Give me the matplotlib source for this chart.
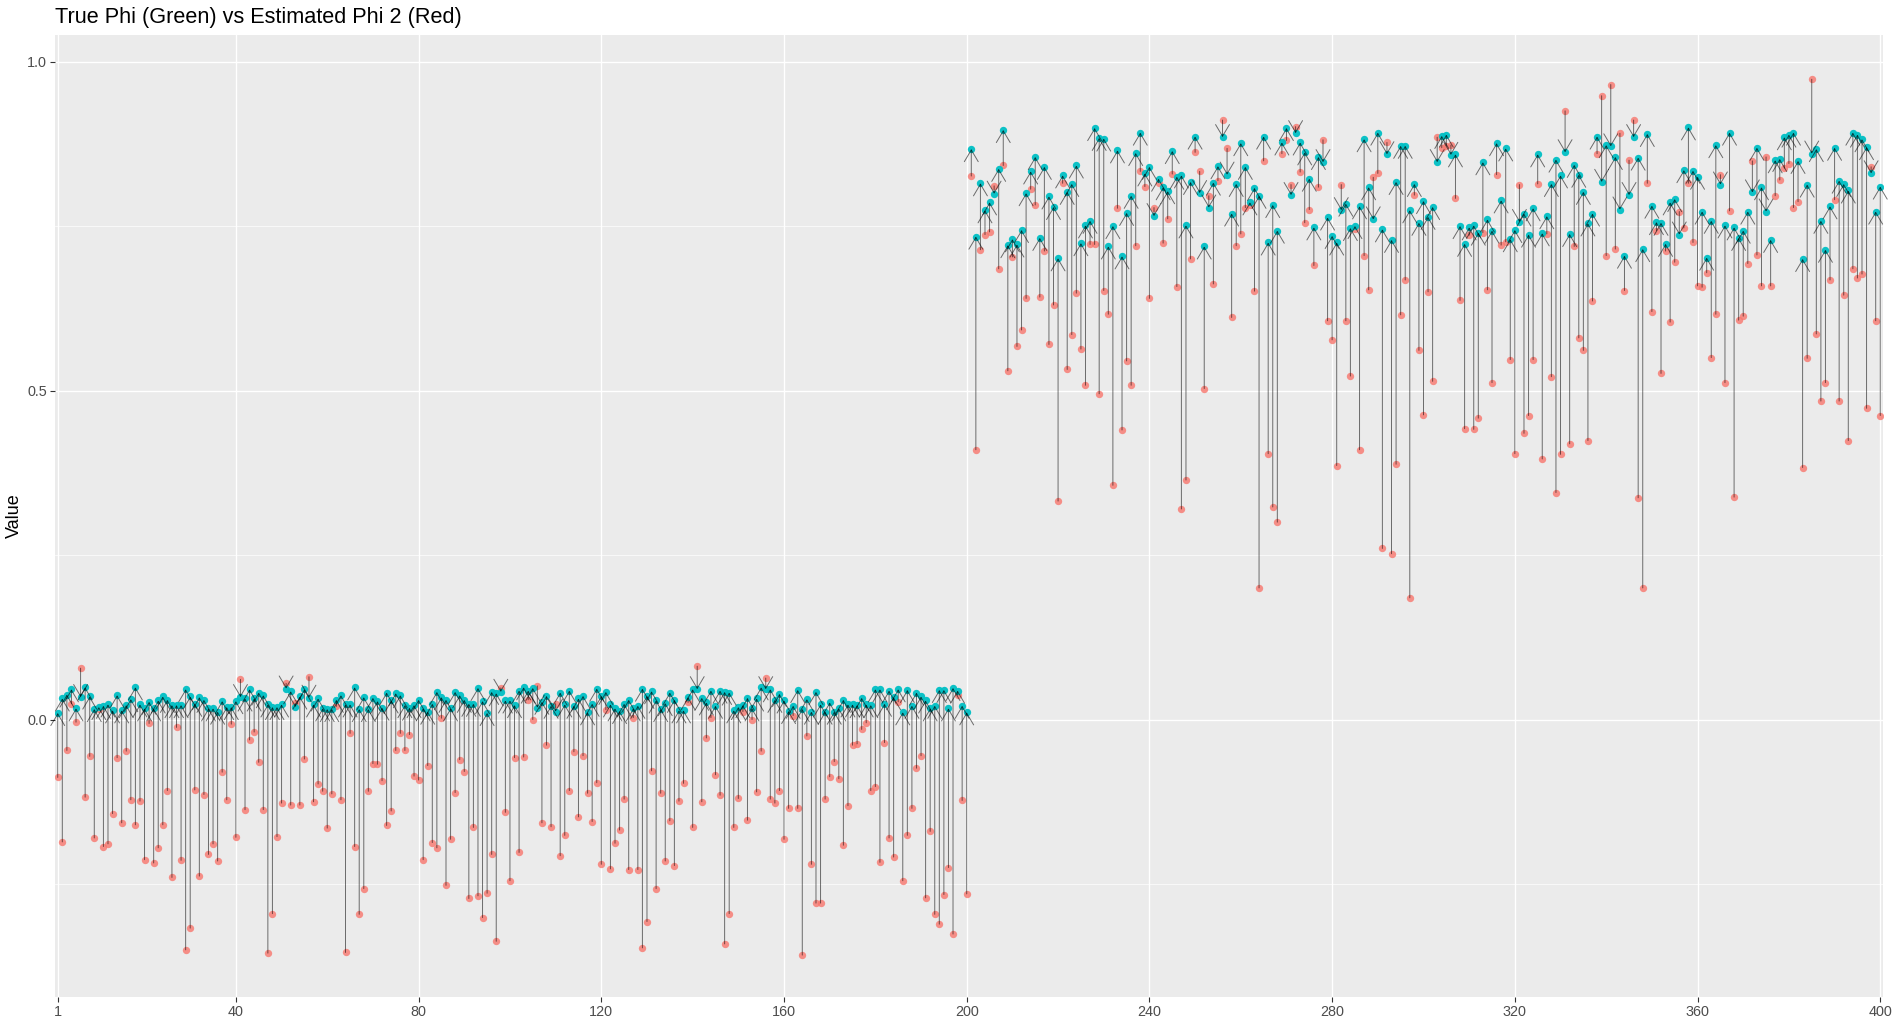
import matplotlib
matplotlib.use("Agg")
import matplotlib.pyplot as plt
from matplotlib.ticker import FixedLocator
import numpy as np

# ---------------- data ----------------
title = "True Phi (Green) vs Estimated Phi 2 (Red)"
y_label = "Value"
x_breaks = [1, 40, 80, 120, 160, 200, 240, 280, 320, 360, 400]
y_breaks = [0.0, 0.5, 1.0]
y_minor_breaks = [-0.25, 0.25, 0.75]

true_phi_1 = [
    0.010, 0.032, 0.038, 0.046, 0.017, 0.034, 0.049, 0.035, 0.016, 0.019,
    0.021, 0.023, 0.014, 0.037, 0.014, 0.022, 0.031, 0.049, 0.023, 0.017,
    0.027, 0.017, 0.029, 0.035, 0.030, 0.022, 0.022, 0.022, 0.046, 0.035,
    0.024, 0.034, 0.030, 0.017, 0.017, 0.012, 0.028, 0.019, 0.019, 0.028,
    0.034, 0.032, 0.046, 0.032, 0.041, 0.037, 0.023, 0.019, 0.019, 0.023,
    0.047, 0.043, 0.019, 0.035, 0.046, 0.033, 0.023, 0.032, 0.017, 0.016,
    0.016, 0.030, 0.037, 0.023, 0.023, 0.049, 0.016, 0.034, 0.016, 0.033,
    0.028, 0.018, 0.041, 0.029, 0.040, 0.037, 0.022, 0.018, 0.022, 0.030,
    0.017, 0.012, 0.024, 0.042, 0.034, 0.030, 0.017, 0.042, 0.037, 0.030,
    0.024, 0.024, 0.048, 0.028, 0.010, 0.042, 0.040, 0.042, 0.029, 0.029,
    0.022, 0.044, 0.049, 0.044, 0.048, 0.018, 0.027, 0.036, 0.021, 0.012,
    0.041, 0.023, 0.044, 0.021, 0.032, 0.036, 0.011, 0.024, 0.047, 0.036,
    0.042, 0.023, 0.017, 0.013, 0.024, 0.030, 0.017, 0.021, 0.047, 0.036,
    0.043, 0.029, 0.016, 0.025, 0.041, 0.030, 0.014, 0.014, 0.034, 0.046,
    0.046, 0.033, 0.026, 0.044, 0.021, 0.044, 0.042, 0.041, 0.014, 0.019,
    0.022, 0.033, 0.017, 0.032, 0.049, 0.046, 0.046, 0.030, 0.039, 0.029,
    0.013, 0.021, 0.045, 0.016, 0.031, 0.012, 0.042, 0.023, 0.012, 0.026,
    0.012, 0.017, 0.030, 0.023, 0.023, 0.022, 0.033, 0.023, 0.022, 0.046,
    0.046, 0.024, 0.044, 0.034, 0.046, 0.011, 0.045, 0.021, 0.041, 0.035,
    0.029, 0.017, 0.021, 0.045, 0.045, 0.017, 0.048, 0.044, 0.021, 0.011,
]

true_phi_2 = [
    0.867, 0.734, 0.815, 0.774, 0.786, 0.799, 0.837, 0.896, 0.721, 0.730,
    0.722, 0.744, 0.800, 0.833, 0.855, 0.732, 0.840, 0.795, 0.779, 0.701,
    0.827, 0.802, 0.814, 0.842, 0.724, 0.751, 0.758, 0.899, 0.884, 0.883,
    0.719, 0.750, 0.865, 0.704, 0.770, 0.796, 0.861, 0.892, 0.830, 0.840,
    0.765, 0.822, 0.809, 0.803, 0.864, 0.825, 0.827, 0.751, 0.817, 0.886,
    0.800, 0.719, 0.778, 0.816, 0.841, 0.885, 0.828, 0.769, 0.814, 0.876,
    0.840, 0.786, 0.808, 0.796, 0.886, 0.725, 0.782, 0.743, 0.877, 0.899,
    0.797, 0.891, 0.877, 0.862, 0.822, 0.748, 0.855, 0.847, 0.763, 0.735,
    0.725, 0.774, 0.784, 0.747, 0.750, 0.780, 0.882, 0.809, 0.760, 0.892,
    0.745, 0.859, 0.729, 0.817, 0.872, 0.872, 0.774, 0.814, 0.755, 0.788,
    0.764, 0.779, 0.847, 0.887, 0.889, 0.858, 0.859, 0.750, 0.723, 0.748,
    0.751, 0.740, 0.847, 0.760, 0.743, 0.876, 0.789, 0.868, 0.730, 0.744,
    0.756, 0.769, 0.737, 0.777, 0.859, 0.739, 0.765, 0.814, 0.851, 0.827,
    0.862, 0.738, 0.843, 0.828, 0.802, 0.754, 0.769, 0.886, 0.817, 0.873,
    0.871, 0.855, 0.775, 0.705, 0.797, 0.885, 0.854, 0.715, 0.890, 0.781,
    0.756, 0.755, 0.723, 0.786, 0.791, 0.737, 0.835, 0.900, 0.834, 0.825,
    0.772, 0.702, 0.758, 0.873, 0.813, 0.751, 0.892, 0.748, 0.732, 0.743,
    0.772, 0.801, 0.869, 0.809, 0.772, 0.729, 0.850, 0.852, 0.885, 0.889,
    0.892, 0.849, 0.700, 0.813, 0.860, 0.867, 0.758, 0.714, 0.780, 0.869,
    0.819, 0.814, 0.804, 0.892, 0.889, 0.882, 0.870, 0.830, 0.772, 0.810,
]

est_phi_1 = [
    -0.088, -0.186, -0.047, 0.024, -0.004, 0.078, -0.118, -0.056, -0.180, 0.016,
    -0.193, -0.189, -0.143, -0.058, -0.157, -0.048, -0.122, -0.160, -0.124, -0.213,
    -0.006, -0.218, -0.195, -0.160, -0.108, -0.240, -0.012, -0.214, -0.350, -0.317,
    -0.107, -0.238, -0.114, -0.205, -0.189, -0.215, -0.080, -0.122, -0.007, -0.179,
    0.061, -0.137, -0.031, -0.019, -0.065, -0.137, -0.355, -0.295, -0.178, -0.127,
    0.055, -0.130, 0.025, -0.130, -0.060, 0.065, -0.125, -0.098, -0.109, -0.165,
    -0.113, 0.020, -0.122, -0.354, -0.021, -0.193, -0.296, -0.257, -0.109, -0.067,
    -0.068, -0.093, -0.161, -0.139, -0.047, -0.021, -0.047, -0.023, -0.086, -0.092,
    -0.213, -0.070, -0.187, -0.195, 0.002, -0.252, -0.182, -0.111, -0.061, -0.079,
    -0.272, -0.164, -0.268, -0.301, -0.264, -0.205, -0.337, 0.048, -0.141, -0.245,
    -0.058, -0.202, -0.057, 0.030, 0.000, 0.051, -0.157, -0.039, -0.163, 0.024,
    -0.207, -0.176, -0.108, -0.049, -0.148, -0.055, -0.112, -0.155, -0.096, -0.220,
    0.015, -0.227, -0.188, -0.168, -0.121, -0.228, 0.003, -0.228, -0.347, -0.307,
    -0.078, -0.257, -0.112, -0.215, -0.154, -0.222, -0.124, -0.097, 0.026, -0.164,
    0.081, -0.125, -0.028, 0.003, -0.084, -0.115, -0.341, -0.295, -0.164, -0.120,
    0.012, -0.153, 0.000, -0.110, -0.048, 0.063, -0.121, -0.127, -0.108, -0.182,
    -0.135, 0.006, -0.135, -0.358, -0.025, -0.220, -0.279, -0.279, -0.121, -0.087,
    -0.064, -0.090, -0.191, -0.131, -0.039, -0.037, -0.015, -0.005, -0.108, -0.102,
    -0.217, -0.035, -0.180, -0.209, 0.027, -0.245, -0.176, -0.135, -0.074, -0.055,
    -0.271, -0.170, -0.296, -0.311, -0.266, -0.225, -0.326, 0.037, -0.123, -0.265,
]

est_phi_2 = [
    0.826, 0.410, 0.714, 0.737, 0.741, 0.811, 0.685, 0.842, 0.530, 0.703,
    0.567, 0.592, 0.640, 0.806, 0.782, 0.642, 0.712, 0.570, 0.630, 0.332,
    0.815, 0.532, 0.585, 0.648, 0.563, 0.508, 0.722, 0.722, 0.495, 0.652,
    0.616, 0.356, 0.777, 0.440, 0.545, 0.508, 0.720, 0.833, 0.810, 0.640,
    0.778, 0.816, 0.724, 0.761, 0.829, 0.658, 0.320, 0.364, 0.700, 0.862,
    0.833, 0.503, 0.796, 0.662, 0.819, 0.911, 0.868, 0.611, 0.720, 0.738,
    0.778, 0.782, 0.651, 0.200, 0.849, 0.404, 0.323, 0.300, 0.860, 0.880,
    0.813, 0.901, 0.832, 0.755, 0.775, 0.690, 0.809, 0.881, 0.606, 0.577,
    0.386, 0.813, 0.606, 0.522, 0.746, 0.410, 0.705, 0.653, 0.824, 0.830,
    0.260, 0.877, 0.252, 0.388, 0.615, 0.668, 0.185, 0.797, 0.561, 0.463,
    0.650, 0.514, 0.885, 0.869, 0.872, 0.873, 0.792, 0.637, 0.442, 0.736,
    0.441, 0.458, 0.740, 0.653, 0.512, 0.828, 0.721, 0.726, 0.547, 0.404,
    0.813, 0.435, 0.462, 0.547, 0.814, 0.396, 0.738, 0.521, 0.345, 0.403,
    0.925, 0.419, 0.719, 0.580, 0.561, 0.424, 0.636, 0.860, 0.948, 0.705,
    0.965, 0.715, 0.891, 0.652, 0.850, 0.911, 0.337, 0.200, 0.815, 0.620,
    0.743, 0.526, 0.712, 0.604, 0.695, 0.772, 0.747, 0.815, 0.725, 0.659,
    0.657, 0.679, 0.550, 0.616, 0.828, 0.512, 0.773, 0.338, 0.607, 0.613,
    0.693, 0.849, 0.706, 0.659, 0.855, 0.659, 0.796, 0.820, 0.838, 0.845,
    0.778, 0.787, 0.383, 0.549, 0.973, 0.586, 0.484, 0.512, 0.668, 0.790,
    0.484, 0.645, 0.424, 0.685, 0.671, 0.677, 0.473, 0.840, 0.606, 0.462,
]

true_phi = np.array(true_phi_1 + true_phi_2)
est_phi = np.array(est_phi_1 + est_phi_2)
index = np.arange(1, len(true_phi) + 1)

# ---------------- style ----------------
plt.rcParams["font.family"] = ["Liberation Sans", "DejaVu Sans"]
RED = "#F8766D"
CYAN = "#00BFC4"
PANEL = "#EBEBEB"

W, H, DPI = 1892, 1026, 100
fig = plt.figure(figsize=(W / DPI, H / DPI), dpi=DPI)
L, R, T, B = 55, 1883, 35, 997
ax = fig.add_axes([L / W, (H - B) / H, (R - L) / W, (B - T) / H])
ax.set_facecolor(PANEL)
for s in ax.spines.values():
    s.set_visible(False)

# grid
ax.set_axisbelow(True)
ax.xaxis.set_major_locator(FixedLocator(x_breaks))
ax.set_xticklabels([str(v) for v in x_breaks])
ax.yaxis.set_major_locator(FixedLocator(y_breaks))
ax.yaxis.set_minor_locator(FixedLocator(y_minor_breaks))
ax.set_yticklabels([f"{v:.1f}" for v in y_breaks])
ax.grid(which="major", color="white", linewidth=1.0)
ax.grid(which="minor", axis="y", color="white", linewidth=0.5)
ax.tick_params(which="minor", length=0)
ax.tick_params(which="major", length=3.6, width=0.8, color="#333333",
               labelsize=10.4, labelcolor="#4D4D4D", pad=2.2)

ax.set_xlim(0.4, 400.6)
ax.set_ylim(-0.4217, 1.0403)

# points
ax.scatter(index, est_phi, s=28, color=RED, alpha=0.8, linewidths=0, zorder=2)
ax.scatter(index, true_phi, s=28, color=CYAN, alpha=0.95, linewidths=0, zorder=3)

# arrows from estimate to true value
for xi, e, t in zip(index, est_phi, true_phi):
    ax.annotate("", xy=(xi, t), xytext=(xi, e), xycoords="data",
                arrowprops=dict(arrowstyle="->,head_length=0.84,head_width=0.5",
                                color="black", alpha=0.55, lw=0.7,
                                shrinkA=0, shrinkB=0, mutation_scale=10),
                zorder=4)

ax.set_title(title, loc="left", fontsize=15.6, color="black", pad=8.6)
ax.set_ylabel(y_label, fontsize=13, color="black", labelpad=3)
ax.set_xlabel("")

fig.savefig("out.png", dpi=DPI, facecolor="white")
